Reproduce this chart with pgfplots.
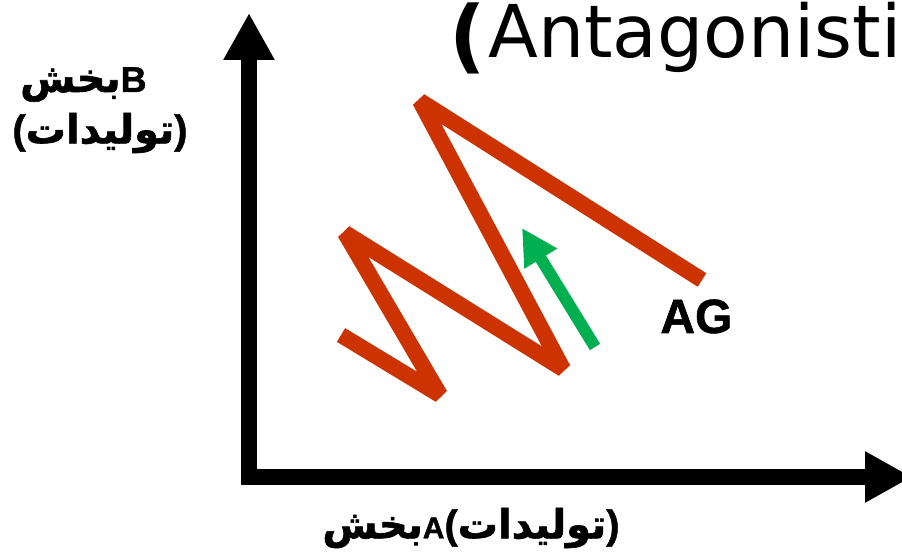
\documentclass[border=0pt]{standalone}
\usepackage{pgfplots}
\pgfplotsset{compat=1.18}
\usepackage{fontspec}
\setmainfont{DejaVu Sans}
\newfontfamily\arabicfont[Script=Arabic, BoldFeatures={FakeBold=1.5}]{DejaVu Sans}
\newfontfamily\heavy[BoldFeatures={FakeBold=1.2}]{Liberation Sans}
\usetikzlibrary{arrows.meta}
\TeXXeTstate=1
\definecolor{rust}{HTML}{CC3300}
\definecolor{grn}{HTML}{00B050}
% one picture pixel = 0.5pt
\newcommand\fa[1]{{\arabicfont\bfseries\fontsize{20}{24}\selectfont\beginR #1\endR}}
\newcommand\lat[2]{{\heavy\bfseries\fontsize{#1}{24}\selectfont #2}}
\begin{document}
\begin{tikzpicture}
\path[use as bounding box] (0,0) rectangle (451pt,278.5pt);
\begin{axis}[
    at={(0,0)}, anchor=south west,
    width=451pt, height=278.5pt, scale only axis,
    xmin=0, xmax=902, ymin=0, ymax=557,
    hide axis, clip=false,
]
% axes
\addplot[black, line width=8pt, line cap=butt, -{Triangle[length=23.5pt,width=24pt]}]
    coordinates {(249,72) (249,544)};
\addplot[black, line width=8pt, line cap=butt, -{Triangle[length=23.5pt,width=24pt]}]
    coordinates {(241,80) (912,80)};
% zigzag
\addplot[rust, line width=8pt, line join=bevel, line cap=butt]
    coordinates {(341,222) (440,162) (345,324) (563,188) (420,456) (702,277)};
% green arrow
\addplot[grn, line width=6pt, -{Triangle[length=18pt,width=18pt]}]
    coordinates {(595,210) (522,329)};

\node[anchor=base west, inner sep=0, font=\fontsize{36.4}{40}\selectfont] at (axis cs:488,499) {Antagonisti};
\node[anchor=base east, inner sep=0, font=\fontsize{40}{44}\selectfont\bfseries] at (axis cs:486,493) {(};
\node[anchor=base west, inner sep=0, font=\heavy\bfseries\fontsize{24}{28}\selectfont] at (axis cs:660,224) {AG};

\node[anchor=base east, inner sep=0] at (axis cs:147,465) {\fa{بخش}\lat{18}{B}};
\node[anchor=center, inner sep=0] at (axis cs:100,424) {\lat{20}{(}\fa{تولیدات}\lat{20}{)}};
\node[anchor=center, inner sep=0] at (axis cs:471,29) {\fa{بخش}\lat{15}{A}\lat{20}{(}\fa{تولیدات}\lat{20}{)}};
\end{axis}
\end{tikzpicture}
\end{document}
